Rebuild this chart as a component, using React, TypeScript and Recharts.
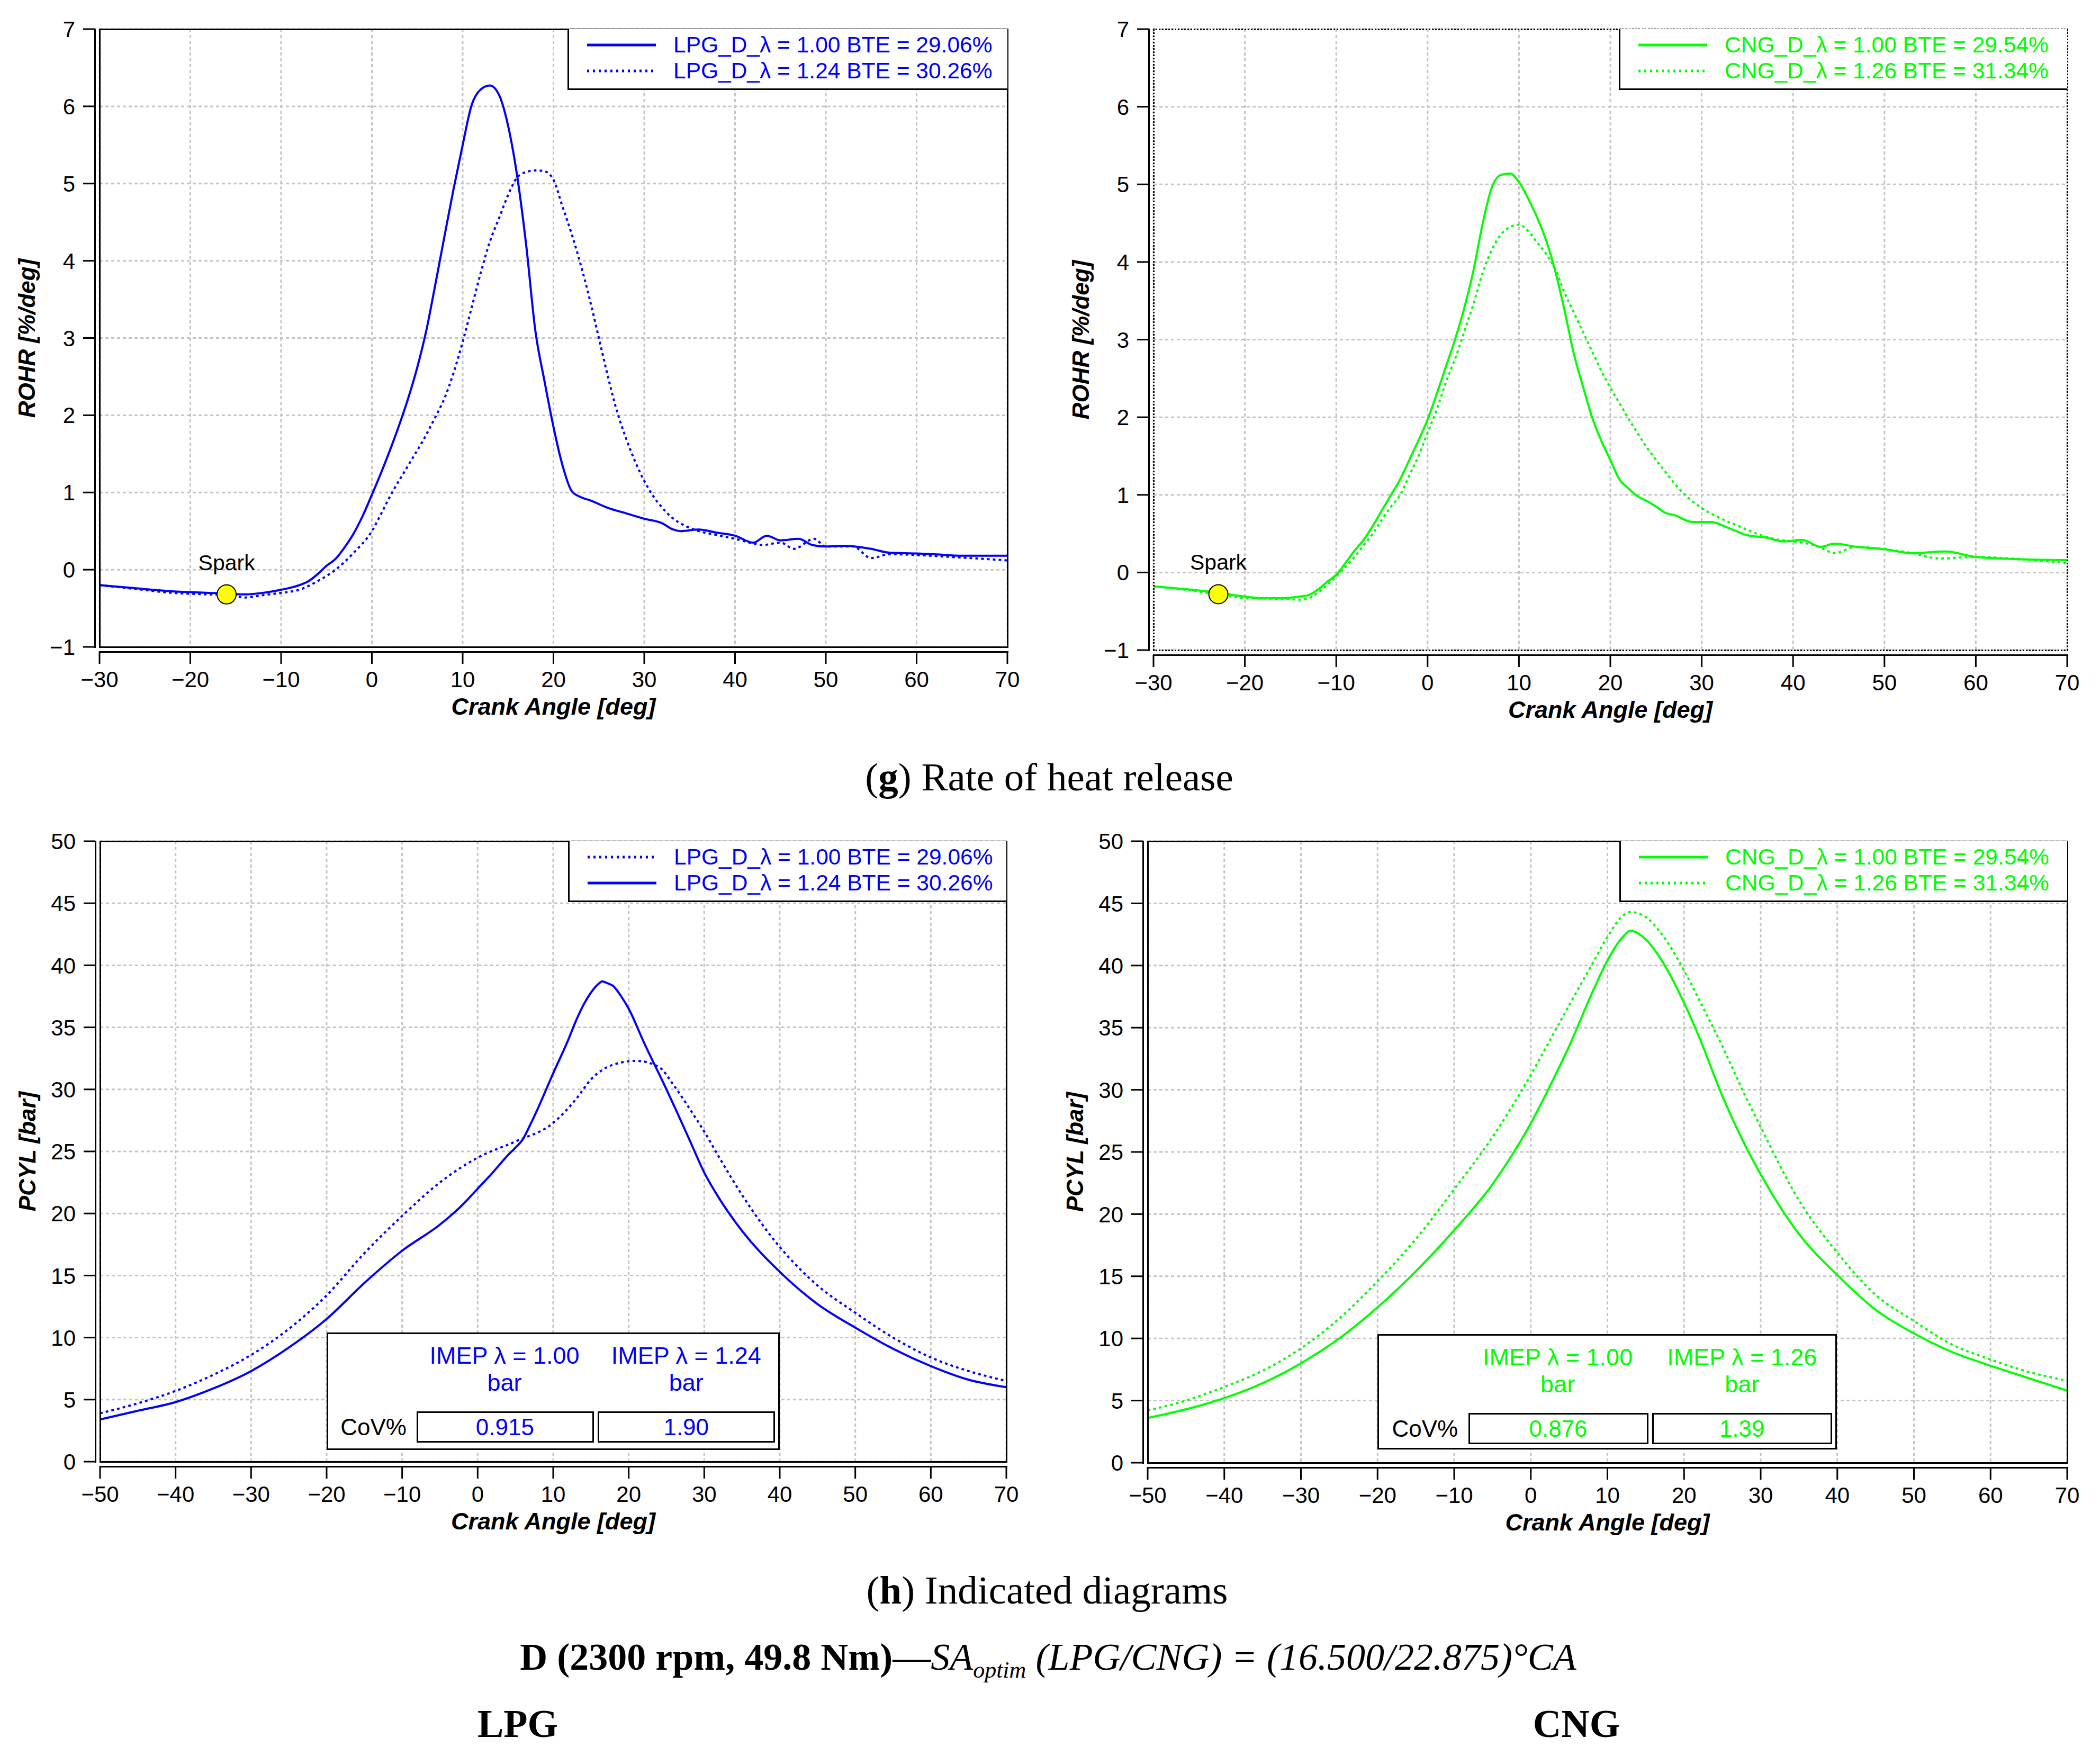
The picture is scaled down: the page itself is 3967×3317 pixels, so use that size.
import React from "react";
import { LineChart, Line, XAxis, YAxis, CartesianGrid, ReferenceDot } from "recharts";

const BLUE = "#0000ff";
const GREEN = "#00ff00";
const SANS = '"Liberation Sans", Arial, sans-serif';
const SERIF = '"Liberation Serif", "Times New Roman", serif';

// axis ticks
const rohrTicksX = [-30, -20, -10, 0, 10, 20, 30, 40, 50, 60, 70];
const rohrTicksY = [-1, 0, 1, 2, 3, 4, 5, 6, 7];
const pcylTicksX = [-50, -40, -30, -20, -10, 0, 10, 20, 30, 40, 50, 60, 70];
const pcylTicksY = [0, 5, 10, 15, 20, 25, 30, 35, 40, 45, 50];

// (g) ROHR, LPG
const rohrLpg100Deg = [-30, -26, -22, -18, -16, -14, -12, -10, -8, -7, -6, -5, -4, -3, -2, -1, 0, 1, 2, 3, 4, 5, 6, 7, 8, 9, 10, 11, 12, 13, 14, 15, 16, 17, 18, 19, 20, 21, 22, 23, 24, 26, 28, 30, 32, 33, 34, 36, 38, 40, 42, 43.5, 45, 47, 48.5, 50, 52, 55, 57, 60, 62, 65, 70];
const rohrLpg100 = [-0.2, -0.24, -0.28, -0.3, -0.31, -0.32, -0.3, -0.26, -0.2, -0.15, -0.06, 0.05, 0.14, 0.29, 0.47, 0.7, 0.97, 1.25, 1.55, 1.87, 2.22, 2.62, 3.1, 3.7, 4.32, 4.93, 5.5, 6.02, 6.22, 6.27, 6.15, 5.75, 5.1, 4.2, 3.1, 2.45, 1.85, 1.35, 1.02, 0.94, 0.9, 0.8, 0.73, 0.66, 0.6, 0.53, 0.5, 0.52, 0.48, 0.44, 0.35, 0.44, 0.38, 0.4, 0.32, 0.3, 0.31, 0.27, 0.22, 0.21, 0.2, 0.18, 0.18];
const rohrLpg124Deg = [-30, -26, -22, -18, -16, -14, -12, -10, -8, -6, -4, -2, 0, 1, 2, 4, 6, 7, 8, 9, 10, 11, 12, 13, 14, 15, 16, 17, 18, 19, 20, 21, 22, 23, 24, 25, 26, 27, 28, 29, 30, 31, 32, 33, 34, 36, 38, 40, 42, 43, 45, 46.5, 48.7, 50, 53, 55, 57, 60, 63, 66, 70];
const rohrLpg124 = [-0.2, -0.25, -0.3, -0.32, -0.33, -0.36, -0.33, -0.3, -0.26, -0.15, 0.0, 0.22, 0.5, 0.72, 0.95, 1.35, 1.75, 1.98, 2.22, 2.55, 2.95, 3.4, 3.85, 4.25, 4.55, 4.85, 5.08, 5.15, 5.17, 5.16, 5.05, 4.7, 4.35, 3.95, 3.5, 3.0, 2.5, 2.05, 1.7, 1.4, 1.15, 0.95, 0.8, 0.68, 0.6, 0.5, 0.45, 0.4, 0.34, 0.32, 0.35, 0.27, 0.4, 0.3, 0.3, 0.15, 0.2, 0.19, 0.17, 0.15, 0.12];

// (g) ROHR, CNG
const rohrCng100Deg = [-30, -26, -23, -20, -18, -16, -14, -13, -12, -11, -10, -9, -8, -7, -6, -5, -4, -3, -2, -1, 0, 1, 2, 3, 4, 5, 6, 7, 8, 9, 10, 11, 12, 13, 14, 15, 16, 17, 18, 19, 20, 21, 22, 23, 24, 25, 26, 27, 29, 31, 33, 35, 37, 39, 41, 43, 44.5, 47, 50, 53, 56.7, 60, 65, 70];
const rohrCng100 = [-0.18, -0.22, -0.26, -0.31, -0.33, -0.33, -0.31, -0.29, -0.22, -0.12, -0.03, 0.12, 0.28, 0.42, 0.6, 0.8, 1.0, 1.2, 1.45, 1.7, 1.97, 2.3, 2.65, 3.0, 3.4, 3.88, 4.48, 4.95, 5.12, 5.14, 5.03, 4.82, 4.57, 4.27, 3.87, 3.37, 2.82, 2.4, 2.0, 1.7, 1.45, 1.2, 1.08, 0.98, 0.92, 0.85, 0.77, 0.74, 0.65, 0.65, 0.57, 0.48, 0.45, 0.4, 0.42, 0.33, 0.37, 0.33, 0.3, 0.25, 0.27, 0.2, 0.17, 0.16];
const rohrCng126Deg = [-30, -26, -22, -20, -16, -14, -13, -12, -11, -10, -9, -8, -7, -6, -5, -4, -3, -2, -1, 0, 1, 2, 3, 4, 5, 6, 7, 8, 9, 10, 11, 12, 13, 14, 15, 16, 17, 18, 19, 20, 21, 22, 23, 24, 25, 26, 27, 28, 30, 32, 34, 36, 38, 40, 42.4, 44.6, 46.8, 50, 53, 56, 60, 65, 70];
const rohrCng126 = [-0.18, -0.23, -0.3, -0.33, -0.34, -0.35, -0.33, -0.26, -0.16, -0.05, 0.07, 0.2, 0.35, 0.5, 0.68, 0.85, 1.0, 1.25, 1.5, 1.8, 2.1, 2.45, 2.75, 3.1, 3.45, 3.85, 4.15, 4.35, 4.45, 4.48, 4.4, 4.25, 4.1, 3.9, 3.6, 3.35, 3.1, 2.85, 2.6, 2.38, 2.18, 1.98, 1.79, 1.61, 1.45, 1.3, 1.15, 1.02, 0.83, 0.7, 0.6, 0.5, 0.43, 0.4, 0.35, 0.25, 0.33, 0.3, 0.25, 0.18, 0.2, 0.17, 0.12];

// (h) PCYL, LPG
const pcylLpgPeakDeg = [-50, -45, -40, -35, -30, -25, -20, -15, -10, -5, -2, 0, 2, 4, 5, 6, 7, 8, 10, 12, 13, 14, 15, 16, 16.5, 17, 18, 19, 20, 22, 25, 28, 30, 32, 35, 40, 45, 50, 55, 60, 65, 70];
const pcylLpgPeak = [3.4, 4.1, 4.8, 5.9, 7.3, 9.2, 11.5, 14.4, 17.0, 19.1, 20.7, 22.0, 23.3, 24.7, 25.3, 26.0, 27.2, 28.5, 31.3, 34.0, 35.5, 36.8, 37.8, 38.5, 38.7, 38.6, 38.3, 37.5, 36.5, 33.8, 30.0, 26.0, 23.3, 21.2, 18.6, 15.3, 12.7, 10.8, 9.1, 7.7, 6.6, 6.0];
const pcylLpgFlatDeg = [-50, -45, -40, -35, -30, -25, -20, -15, -10, -5, 0, 5, 10, 13, 15, 18, 21, 24, 26, 28, 30, 32, 35, 40, 45, 50, 55, 60, 65, 70];
const pcylLpgFlat = [3.9, 4.7, 5.7, 7.0, 8.6, 10.7, 13.4, 16.8, 19.8, 22.5, 24.5, 25.8, 27.3, 29.2, 30.8, 32.0, 32.3, 31.8, 30.3, 28.5, 26.6, 24.5, 21.5, 17.3, 14.2, 12.0, 10.0, 8.4, 7.3, 6.5];

// (h) PCYL, CNG
const pcylCngDeg = [-50, -45, -40, -35, -30, -25, -20, -15, -10, -5, -2.5, 0, 2.5, 5, 8, 10, 12, 13, 15, 17, 20, 22, 25, 28, 30, 35, 40, 45, 50, 55, 60, 65, 70];
const pcylCng100 = [3.6, 4.3, 5.2, 6.4, 8.0, 10.0, 12.5, 15.4, 18.7, 22.4, 24.7, 27.3, 30.3, 33.5, 37.8, 40.4, 42.3, 42.8, 42.1, 40.5, 37.0, 34.2, 29.5, 25.5, 23.2, 18.4, 15.1, 12.3, 10.4, 8.9, 7.8, 6.8, 5.8];
const pcylCng126 = [4.2, 5.0, 6.1, 7.4, 9.2, 11.6, 14.6, 18.0, 22.0, 26.2, 28.6, 31.2, 34.0, 36.8, 40.1, 42.3, 44.0, 44.3, 43.9, 42.6, 39.6, 37.2, 33.5, 29.5, 27.0, 21.1, 16.9, 13.5, 11.4, 9.5, 8.3, 7.3, 6.6];

const lpgSpark = { deg: -16, v: -0.32 };
const cngSpark = { deg: -22.9, v: -0.28 };

const zip = (xs: number[], ys: number[]) => xs.map((x, i) => ({ deg: x, v: ys[i] }));
const fmt = (v: number) => (v < 0 ? "\u2212" + Math.abs(v) : String(v));

function XTick(props: any) {
  const { x, y, payload } = props;
  return (
    <g>
      <line x1={x} x2={x} y1={y + 9} y2={y + 32} stroke="#000" strokeWidth={3} />
      <text x={x} y={y + 76} textAnchor="middle" fontSize={42} fontFamily={SANS} fill="#000">
        {fmt(payload.value)}
      </text>
    </g>
  );
}

function YTick(props: any) {
  const { x, y, payload } = props;
  return (
    <g>
      <line x1={x - 9} x2={x - 31} y1={y} y2={y} stroke="#000" strokeWidth={3} />
      <text x={x - 46} y={y} dy="0.36em" textAnchor="end" fontSize={42} fontFamily={SANS} fill="#000">
        {fmt(payload.value)}
      </text>
    </g>
  );
}

function LegendBox(props: { left: number; top: number; right: number; color: string; items: { label: string; dotted: boolean }[] }) {
  const { left, top, right, color, items } = props;
  return (
    <div
      style={{
        position: "absolute",
        left,
        top,
        width: right - left,
        height: 115,
        boxSizing: "border-box",
        borderLeft: "3px solid #000",
        borderBottom: "3px solid #000",
        background: "#fff",
      }}
    >
      {items.map((it, i) => (
        <div key={i} style={{ position: "absolute", left: 0, top: 30 + i * 49 - 21, height: 42, width: "100%" }}>
          <svg width={140} height={42} style={{ position: "absolute", left: 34, top: 0 }}>
            <line x1={0} x2={130} y1={21} y2={21} stroke={color} strokeWidth={5} strokeDasharray={it.dotted ? "4 7" : undefined} />
          </svg>
          <div
            style={{
              position: "absolute",
              left: 197,
              top: 0,
              fontFamily: SANS,
              fontSize: 42.5,
              lineHeight: "42px",
              color,
              whiteSpace: "nowrap",
            }}
          >
            {it.label}
          </div>
        </div>
      ))}
    </div>
  );
}

function ImepBox(props: { left: number; top: number; width: number; height: number; color: string; heads: string[]; vals: string[] }) {
  const { left, top, width, height, color, heads, vals } = props;
  const txt = (c: string, size: number): React.CSSProperties => ({
    position: "absolute",
    transform: "translate(-50%, -50%)",
    fontFamily: SANS,
    fontSize: size,
    lineHeight: `${size}px`,
    color: c,
    whiteSpace: "nowrap",
  });
  const cellL = [0.195, 0.595];
  const headC = [0.389, 0.79];
  return (
    <div style={{ position: "absolute", left, top, width, height, boxSizing: "border-box", border: "3px solid #000", background: "#fff" }}>
      {heads.map((h, i) => (
        <React.Fragment key={i}>
          <div style={{ ...txt(color, 45), left: headC[i] * width, top: 40 }}>{h}</div>
          <div style={{ ...txt(color, 45), left: headC[i] * width, top: 91 }}>bar</div>
          <div
            style={{
              position: "absolute",
              left: cellL[i] * width,
              top: 146,
              width: 0.391 * width,
              height: 59,
              boxSizing: "border-box",
              border: "3px solid #000",
            }}
          />
          <div style={{ ...txt(color, 44), left: (cellL[i] + 0.195) * width, top: 176 }}>{vals[i]}</div>
        </React.Fragment>
      ))}
      <div style={{ ...txt("#000", 44), left: 0.1 * width, top: 176 }}>CoV%</div>
    </div>
  );
}

type PanelProps = {
  box: { x: number; y: number; w: number; h: number };
  plot: { left: number; top: number; right: number; bottom: number };
  xDomain: number[];
  xTicks: number[];
  yDomain: number[];
  yTicks: number[];
  yLabel: string;
  series: { data: { deg: number; v: number }[]; color: string; dotted: boolean }[];
  spark?: { deg: number; v: number };
  dottedFrame?: boolean;
};

function Panel(p: PanelProps) {
  const { box, plot } = p;
  const margin = { top: plot.top - box.y, right: box.x + box.w - plot.right, left: 0, bottom: 0 };
  const pw = plot.right - plot.left;
  const ph = plot.bottom - plot.top;
  return (
    <>
      <div style={{ position: "absolute", left: box.x, top: box.y, width: box.w, height: box.h }}>
        <LineChart width={box.w} height={box.h} margin={margin}>
          <CartesianGrid stroke="#c4c4c4" strokeWidth={3} strokeDasharray="6 5" />
          <XAxis
            type="number"
            dataKey="deg"
            domain={p.xDomain}
            ticks={p.xTicks}
            interval={0}
            allowDataOverflow
            height={box.y + box.h - plot.bottom}
            axisLine={false}
            tickLine={false}
            tickSize={0}
            tickMargin={0}
            tick={(t: any) => <XTick {...t} />}
          />
          <YAxis
            type="number"
            dataKey="v"
            domain={p.yDomain}
            ticks={p.yTicks}
            interval={0}
            allowDataOverflow
            width={plot.left - box.x}
            axisLine={false}
            tickLine={false}
            tickSize={0}
            tickMargin={0}
            tick={(t: any) => <YTick {...t} />}
          />
          {p.series.map((s, i) => (
            <Line
              key={i}
              data={s.data}
              dataKey="v"
              type="monotone"
              stroke={s.color}
              strokeWidth={4}
              strokeDasharray={s.dotted ? "5 6" : undefined}
              dot={false}
              activeDot={false}
              isAnimationActive={false}
            />
          ))}
          {p.spark && (
            <ReferenceDot
              x={p.spark.deg}
              y={p.spark.v}
              r={18}
              fill="#ffff00"
              stroke="#000"
              strokeWidth={2}
              label={{ value: "Spark", position: "top", offset: 28, fontSize: 41, fill: "#000", fontFamily: SANS }}
            />
          )}
        </LineChart>
      </div>
      {/* plot frame */}
      <div
        style={{
          position: "absolute",
          left: plot.left - 1.5,
          top: plot.top - 1.5,
          width: pw + 3,
          height: ph + 3,
          boxSizing: "border-box",
          border: p.dottedFrame ? "3px dotted #000" : "3px solid #000",
          pointerEvents: "none",
        }}
      />
      {/* detached axis lines */}
      <div style={{ position: "absolute", left: plot.left - 1.5, top: plot.bottom + 7.5, width: pw + 3, height: 3, background: "#000" }} />
      <div style={{ position: "absolute", left: plot.left - 10.5, top: plot.top - 1.5, width: 3, height: ph + 3, background: "#000" }} />
      {/* axis titles */}
      <div
        style={{
          position: "absolute",
          left: plot.left + pw / 2,
          top: plot.bottom + 112,
          transform: "translate(-50%, -50%)",
          fontFamily: SANS,
          fontSize: 45,
          lineHeight: "45px",
          fontWeight: "bold",
          fontStyle: "italic",
          whiteSpace: "nowrap",
        }}
      >
        Crank Angle [deg]
      </div>
      <div
        style={{
          position: "absolute",
          left: plot.left - 137,
          top: plot.top + ph / 2,
          transform: "translate(-50%, -50%) rotate(-90deg)",
          fontFamily: SANS,
          fontSize: 44,
          lineHeight: "44px",
          fontWeight: "bold",
          fontStyle: "italic",
          whiteSpace: "nowrap",
        }}
      >
        {p.yLabel}
      </div>
    </>
  );
}

const capStyle = (cx: number, cy: number, size: number): React.CSSProperties => ({
  position: "absolute",
  left: cx,
  top: cy - size / 2,
  transform: "translateX(-50%)",
  fontFamily: SERIF,
  fontSize: size,
  lineHeight: `${size}px`,
  whiteSpace: "nowrap",
  color: "#000",
});

export default function App() {
  const tl = { box: { x: 0, y: 0, w: 1984, h: 1400 }, plot: { left: 188, top: 55, right: 1903, bottom: 1222 } };
  const tr = { box: { x: 1984, y: 0, w: 1983, h: 1400 }, plot: { left: 2179, top: 55, right: 3905, bottom: 1228 } };
  const bl = { box: { x: 0, y: 1450, w: 1984, h: 1450 }, plot: { left: 189, top: 1589, right: 1901, bottom: 2761 } };
  const br = { box: { x: 1984, y: 1450, w: 1983, h: 1450 }, plot: { left: 2168, top: 1589, right: 3905, bottom: 2763 } };

  return (
    <div style={{ position: "absolute", left: 0, top: 0, width: 3967, height: 3317, background: "#fff", overflow: "hidden" }}>
      <Panel
        {...tl}
        xDomain={[-30, 70]}
        xTicks={rohrTicksX}
        yDomain={[-1, 7]}
        yTicks={rohrTicksY}
        yLabel="ROHR [%/deg]"
        series={[
          { data: zip(rohrLpg100Deg, rohrLpg100), color: BLUE, dotted: false },
          { data: zip(rohrLpg124Deg, rohrLpg124), color: BLUE, dotted: true },
        ]}
        spark={lpgSpark}
      />
      <LegendBox
        left={1072}
        top={55}
        right={1903}
        color={BLUE}
        items={[
          { label: "LPG_D_λ = 1.00 BTE = 29.06%", dotted: false },
          { label: "LPG_D_λ = 1.24 BTE = 30.26%", dotted: true },
        ]}
      />
      <Panel
        {...tr}
        xDomain={[-30, 70]}
        xTicks={rohrTicksX}
        yDomain={[-1, 7]}
        yTicks={rohrTicksY}
        yLabel="ROHR [%/deg]"
        series={[
          { data: zip(rohrCng100Deg, rohrCng100), color: GREEN, dotted: false },
          { data: zip(rohrCng126Deg, rohrCng126), color: GREEN, dotted: true },
        ]}
        spark={cngSpark}
        dottedFrame
      />
      <LegendBox
        left={3058}
        top={55}
        right={3905}
        color={GREEN}
        items={[
          { label: "CNG_D_λ = 1.00 BTE = 29.54%", dotted: false },
          { label: "CNG_D_λ = 1.26 BTE = 31.34%", dotted: true },
        ]}
      />
      <Panel
        {...bl}
        xDomain={[-50, 70]}
        xTicks={pcylTicksX}
        yDomain={[0, 50]}
        yTicks={pcylTicksY}
        yLabel="PCYL [bar]"
        series={[
          { data: zip(pcylLpgFlatDeg, pcylLpgFlat), color: BLUE, dotted: true },
          { data: zip(pcylLpgPeakDeg, pcylLpgPeak), color: BLUE, dotted: false },
        ]}
      />
      <LegendBox
        left={1073}
        top={1589}
        right={1901}
        color={BLUE}
        items={[
          { label: "LPG_D_λ = 1.00 BTE = 29.06%", dotted: true },
          { label: "LPG_D_λ = 1.24 BTE = 30.26%", dotted: false },
        ]}
      />
      <ImepBox left={617} top={2517} width={856} height={222} color={BLUE} heads={["IMEP λ = 1.00", "IMEP λ = 1.24"]} vals={["0.915", "1.90"]} />
      <Panel
        {...br}
        xDomain={[-50, 70]}
        xTicks={pcylTicksX}
        yDomain={[0, 50]}
        yTicks={pcylTicksY}
        yLabel="PCYL [bar]"
        series={[
          { data: zip(pcylCngDeg, pcylCng100), color: GREEN, dotted: false },
          { data: zip(pcylCngDeg, pcylCng126), color: GREEN, dotted: true },
        ]}
      />
      <LegendBox
        left={3059}
        top={1589}
        right={3905}
        color={GREEN}
        items={[
          { label: "CNG_D_λ = 1.00 BTE = 29.54%", dotted: false },
          { label: "CNG_D_λ = 1.26 BTE = 31.34%", dotted: true },
        ]}
      />
      <ImepBox left={2602} top={2520} width={868} height={218} color={GREEN} heads={["IMEP λ = 1.00", "IMEP λ = 1.26"]} vals={["0.876", "1.39"]} />

      <div style={capStyle(1982, 1467, 75)}>
        (<b>g</b>) Rate of heat release
      </div>
      <div style={capStyle(1978, 3003, 75)}>
        (<b>h</b>) Indicated diagrams
      </div>
      <div style={capStyle(1980, 3130, 72)}>
        <b>D (2300 rpm, 49.8 Nm)</b>—<i>SA</i>
        <sub style={{ fontSize: 44, fontStyle: "italic" }}>optim</sub>
        <i> (LPG/CNG) = (16.500/22.875)°CA</i>
      </div>
      <div style={{ ...capStyle(978, 3256, 74), fontWeight: "bold" }}>LPG</div>
      <div style={{ ...capStyle(2978, 3256, 74), fontWeight: "bold" }}>CNG</div>
    </div>
  );
}
